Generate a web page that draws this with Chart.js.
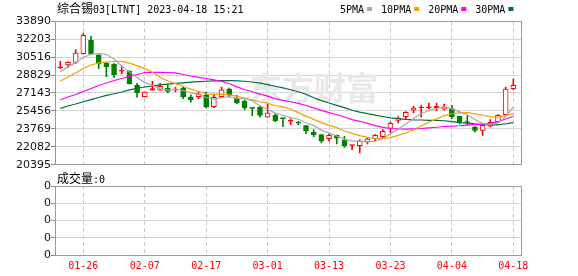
<!DOCTYPE html>
<html><head><meta charset="utf-8">
<script src="https://cdn.jsdelivr.net/npm/chart.js@4.4.0/dist/chart.umd.min.js"></script>
<style>
html,body{margin:0;padding:0;background:#fff;width:578px;height:276px;overflow:hidden}
#main{position:absolute;left:0;top:0}
#vol{position:absolute;left:0;top:172px}
</style></head><body>
<canvas id="main" width="578" height="172"></canvas>
<canvas id="vol" width="578" height="104"></canvas>
<script>
const titleText = '综合锡03[LTNT] 2023-04-18 15:21';
const volumeTitle = '成交量:0';
const watermark = '东方财富';
const maNames = ['5PMA','10PMA','20PMA','30PMA'];

const dates = ['01-23','01-24','01-25','01-26','01-27','01-30','01-31','02-01','02-02','02-03',
'02-06','02-07','02-08','02-09','02-10','02-13','02-14','02-15','02-16','02-17',
'02-20','02-21','02-22','02-23','02-24','02-27','02-28','03-01','03-02','03-03',
'03-06','03-07','03-08','03-09','03-10','03-13','03-14','03-15','03-16','03-17',
'03-20','03-21','03-22','03-23','03-24','03-27','03-28','03-29','03-30','03-31',
'04-03','04-04','04-05','04-06','04-11','04-12','04-13','04-14','04-17','04-18'];

const open  = [29520,29780,30030,30840,32100,30720,29970,29870,29190,29190,27870,26790,27420,27400,27610,27420,27610,26770,26790,26980,25850,26790,27520,26670,26360,25740,25800,24860,25070,24760,24500,24330,24070,23470,23220,22840,23160,22720,22200,22180,22530,22840,23030,23820,24560,24910,25520,25730,25740,25730,25610,25670,24950,24400,23970,23630,24010,24410,25100,27550];
const high  = [30130,30080,31220,32790,32480,30750,29990,29900,29660,29250,28060,27260,28240,28060,27920,27680,27740,26980,27240,27240,27050,27710,27610,26930,26480,25750,25990,26110,25200,24770,24720,24480,24090,23690,23240,23290,23180,23070,22240,22750,22970,23220,23690,24440,24930,25400,25890,25990,26200,26200,26110,25990,24970,25010,23990,24250,24630,25100,27710,28460];
const low   = [29430,29560,29900,30800,30800,29430,28680,28620,28930,27980,26740,26770,27400,27380,27140,27240,26610,26270,26610,25730,25760,26770,26770,26110,25570,25010,24860,24840,24440,23970,24160,24160,23310,23030,22440,22600,22340,22030,21810,21500,22340,22650,22910,23380,24320,24630,25260,24860,25670,25480,25540,24720,24230,24160,23470,23160,23940,24400,25040,27450];
const close = [29590,30030,30910,32570,30840,29870,29590,28870,29280,28020,27170,27240,27550,27770,27300,27490,26770,26510,27020,25800,26740,27450,26930,26230,25730,25700,25040,25260,24540,24730,24540,24300,23600,23190,22600,23160,22880,22180,22230,22600,22810,23160,23540,24290,24790,25330,25730,25800,25800,25890,25830,24910,24440,24370,23630,24100,24390,25040,27520,27870];

const ma5  = [29150,29600,30000,30500,30790,30840,30760,30350,29690,29130,28590,28120,27850,27550,27410,27470,27380,27170,27020,26720,26570,26700,26790,26630,26620,26410,25930,25590,25250,25050,24820,24670,24340,24070,23650,23370,23090,22800,22610,22610,22540,22600,22870,23280,23720,24220,24740,25190,25490,25710,25810,25650,25370,25090,24640,24290,24190,24310,24940,25780];
const ma10 = [28240,28650,29030,29450,29780,29970,30060,30130,30110,29960,29720,29440,29100,28620,28270,28030,27750,27510,27280,27060,27020,27040,26980,26820,26670,26490,26320,26190,25940,25840,25620,25300,24970,24660,24350,24100,23880,23570,23340,23130,22960,22840,22840,22950,23160,23380,23670,24030,24390,24710,25020,25190,25280,25290,25170,25050,24920,24840,25010,25210];
const ma20 = [26510,26770,27000,27280,27570,27850,28080,28320,28510,28700,28880,29070,29090,29090,29070,29030,28880,28740,28620,28510,28370,28240,28040,27720,27470,27260,27030,26850,26610,26450,26320,26170,25970,25740,25510,25290,25100,24880,24640,24480,24290,24070,23900,23800,23760,23740,23770,23800,23860,23920,23990,24020,24060,24120,24170,24220,24290,24430,24700,24960];
const ma30 = [25700,25920,26110,26320,26520,26720,26920,27070,27240,27430,27590,27710,27800,27900,27970,28040,28100,28160,28210,28250,28280,28300,28300,28290,28250,28180,28070,27930,27780,27620,27450,27260,27020,26700,26430,26200,25980,25760,25520,25340,25200,25060,24930,24810,24730,24660,24620,24600,24560,24560,24530,24440,24360,24300,24230,24180,24150,24150,24250,24350];

const volume = [0,0,0,0,0,0,0,0,0,0,0,0,0,0,0,0,0,0,0,0,0,0,0,0,0,0,0,0,0,0,
0,0,0,0,0,0,0,0,0,0,0,0,0,0,0,0,0,0,0,0,0,0,0,0,0,0,0,0,0,0];

const xTickLabels = ['01-26','02-07','02-17','03-01','03-13','03-23','04-04','04-18'];
const yTicks = [33890,32203,30516,28829,27143,25456,23769,22082,20395];
const volTickValues = [0,1,2,3,4];
const volTickLabels = ['0','0','0','0','0'];

// ---- styling ----
const RED = '#ff0000', GREEN = '#008000';
const maColors = ['#a8a8a8','#f2a100','#ff00ff','#006e3a'];
const MONO = '"DejaVu Sans Mono"';
const CJK = '"Noto Sans CJK SC"';
Chart.defaults.font.family = '"DejaVu Sans"';

const X_MIN = -0.69, X_MAX = 60.09;
const idx = dates.map((d, i) => i);
const up = close.map((c, i) => c >= open[i]);
const tiny = close.map((c, i) => Math.abs(c - open[i]) < 200);

function drawMixed(ctx, text, x, y) {
  const runs = text.match(/[\u3000-\u9fff]+|[^\u3000-\u9fff]+/g) || [];
  for (const r of runs) {
    const cjk = /[\u3000-\u9fff]/.test(r);
    ctx.font = cjk ? '12px ' + CJK : '10px ' + MONO;
    ctx.fillText(r, x, y);
    x += ctx.measureText(r).width;
  }
  return x;
}
function box(ctx, a) {
  ctx.save();
  ctx.strokeStyle = '#9a9a9a';
  ctx.lineWidth = 1;
  const x0 = Math.floor(a.left) + 0.5, y0 = Math.floor(a.top) + 0.5;
  const x1 = Math.floor(a.right) + 0.5, y1 = Math.floor(a.bottom) + 0.5;
  ctx.strokeRect(x0, y0, x1 - x0, y1 - y0);
  ctx.restore();
}
const xTicksBuilder = s => { s.ticks = xTickLabels.map(l => ({ value: dates.indexOf(l) })); };

const mainDeco = {
  id: 'mainDeco',
  beforeDatasetsDraw(chart) {
    const ctx = chart.ctx;
    ctx.save();
    ctx.fillStyle = '#e8e8e8';
    ctx.font = 'bold 32px ' + CJK;
    ctx.textBaseline = 'top';
    ctx.fillText(watermark, 250, 72);
    ctx.restore();
  },
  afterDraw(chart) {
    const ctx = chart.ctx;
    box(ctx, chart.chartArea);
    ctx.save();
    ctx.fillStyle = '#000';
    ctx.textBaseline = 'alphabetic';
    drawMixed(ctx, titleText, 57, 13);
    let x = 340;
    maNames.forEach((n, k) => {
      ctx.fillStyle = '#000';
      ctx.font = '10px ' + MONO;
      ctx.fillText(n, x, 13);
      x += ctx.measureText(n).width + 3;
      ctx.fillStyle = maColors[k];
      ctx.fillRect(x, 7, 5, 4);
      x += 5 + 9;
    });
    ctx.restore();
  }
};

new Chart(document.getElementById('main'), {
  type: 'bar',
  data: {
    datasets: [
      ...[ma5, ma10, ma20, ma30].map((s, k) => ({
        type: 'line', label: maNames[k],
        data: s.map((v, i) => ({ x: i, y: v })),
        borderColor: maColors[k], borderWidth: 1.2, pointRadius: 0, tension: 0, fill: false, order: 0
      })),
      {
        label: 'body', order: 1, grouped: false,
        data: idx.map(i => ({ x: i, y: [open[i], close[i]] })),
        backgroundColor: idx.map(i => up[i] ? (tiny[i] ? RED : '#ffffff') : GREEN),
        borderColor: idx.map(i => up[i] ? RED : GREEN),
        borderWidth: 1, borderSkipped: false, barThickness: 5, minBarLength: 1
      },
      {
        label: 'wick', order: 2, grouped: false,
        data: idx.map(i => ({ x: i, y: [low[i], high[i]] })),
        backgroundColor: idx.map(i => up[i] ? RED : GREEN),
        borderWidth: 0, barThickness: 1, minBarLength: 1
      }
    ]
  },
  options: {
    responsive: false, animation: false, devicePixelRatio: 1,
    layout: { padding: { left: 0, top: 21.3, right: 56.3, bottom: 7.3 } },
    plugins: { legend: { display: false }, tooltip: { enabled: false }, title: { display: false } },
    scales: {
      x: {
        type: 'linear', min: X_MIN, max: X_MAX, offset: false,
        afterBuildTicks: xTicksBuilder,
        afterFit: s => { s.height = 0; },
        ticks: { display: false },
        grid: { color: '#c8c8c8', lineWidth: 1, drawTicks: false, offset: false },
        border: { display: false, dash: [4, 3] }
      },
      y: {
        type: 'linear', min: 20395, max: 33890,
        afterBuildTicks: s => { s.ticks = yTicks.map(v => ({ value: v })); },
        afterFit: s => { s.width = 55; },
        ticks: { color: '#111', font: { size: 11 }, padding: 0, autoSkip: false, callback: (v, i) => String(yTicks[i]) },
        grid: { color: '#d6d6d6', tickColor: '#8a8a8a', tickLength: 4, drawTicks: true },
        border: { display: false }
      }
    }
  },
  plugins: [mainDeco]
});

const volDeco = {
  id: 'volDeco',
  afterDraw(chart) {
    const ctx = chart.ctx;
    box(ctx, chart.chartArea);
    ctx.save();
    ctx.fillStyle = '#000';
    drawMixed(ctx, volumeTitle, 57, 11);
    ctx.restore();
  }
};

new Chart(document.getElementById('vol'), {
  type: 'bar',
  data: {
    datasets: [{
      label: 'volume', data: volume.map((v, i) => ({ x: i, y: v })),
      backgroundColor: 'rgba(0,0,0,0)', barThickness: 5
    }]
  },
  options: {
    responsive: false, animation: false, devicePixelRatio: 1,
    layout: { padding: { left: 0, top: 14, right: 56.3, bottom: 0 } },
    plugins: { legend: { display: false }, tooltip: { enabled: false } },
    scales: {
      x: {
        type: 'linear', min: X_MIN, max: X_MAX, offset: false,
        afterBuildTicks: xTicksBuilder,
        afterFit: s => { s.height = 21; },
        ticks: { color: RED, font: { family: MONO, size: 10 }, padding: 5, autoSkip: false, maxRotation: 0,
                 callback: (v, i) => xTickLabels[i] },
        grid: { color: '#c8c8c8', lineWidth: 1, drawTicks: false, offset: false },
        border: { display: false, dash: [4, 3] }
      },
      y: {
        type: 'linear', min: 0, max: 4,
        afterBuildTicks: s => { s.ticks = volTickValues.map(v => ({ value: v })); },
        afterFit: s => { s.width = 55; },
        ticks: { color: '#111', font: { size: 11 }, padding: 0, autoSkip: false, callback: (v, i) => volTickLabels[i] },
        grid: { color: '#d6d6d6', tickColor: '#8a8a8a', tickLength: 4, drawTicks: true },
        border: { display: false }
      }
    }
  },
  plugins: [volDeco]
});
</script>
</body></html>
